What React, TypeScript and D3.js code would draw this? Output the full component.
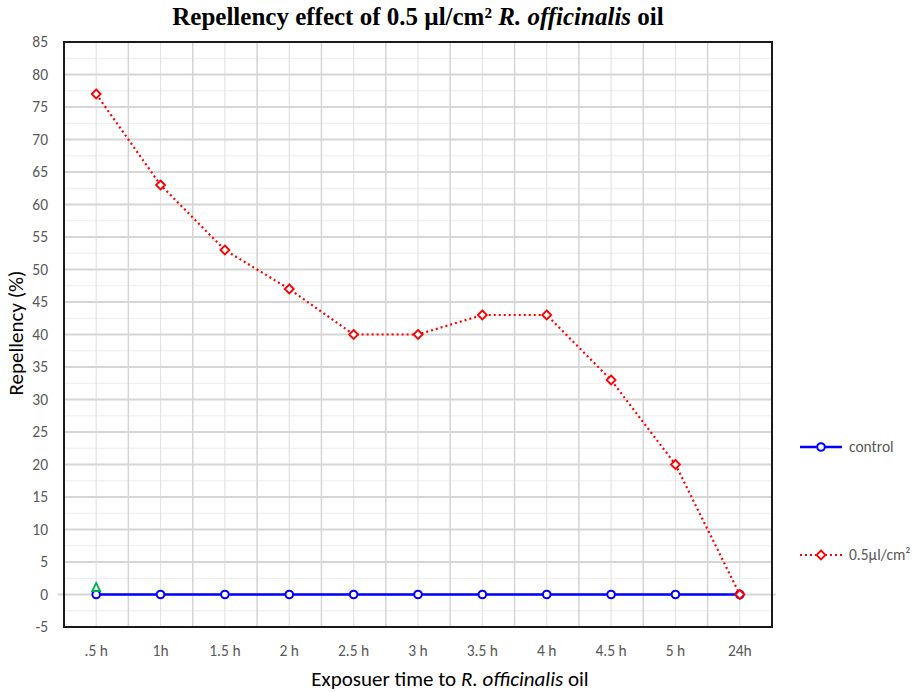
import React from "react";
import * as d3 from "d3";

const categories = [".5 h", "1h", "1.5 h", "2 h", "2.5 h", "3 h", "3.5 h", "4 h", "4.5 h", "5 h", "24h"];
const controlValues = [0, 0, 0, 0, 0, 0, 0, 0, 0, 0, 0];
const oilValues = [77, 63, 53, 47, 40, 40, 43, 43, 33, 20, 0];
const extraPoint = [{ cat: ".5 h", value: 1 }];
const yTicks = [-5, 0, 5, 10, 15, 20, 25, 30, 35, 40, 45, 50, 55, 60, 65, 70, 75, 80, 85];
const yMinor = d3.range(-5, 85.01, 2.5);

const W = 918, H = 692;
const m = { left: 64, right: 772, top: 42, bottom: 627 };

export default function App() {
  const x = d3.scaleBand<string>().domain(categories).range([m.left, m.right]);
  const cx = (c: string) => (x(c) as number) + x.bandwidth() / 2;
  const y = d3.scaleLinear().domain([-5, 85]).range([m.bottom, m.top]);
  const line = d3.line<number>().x((_, i) => cx(categories[i])).y((d) => y(d));
  const font = "Calibri, Carlito, 'Open Sans', sans-serif";
  const diamond = (px: number, py: number, s: number) =>
    `M${px},${py - s}L${px + s},${py}L${px},${py + s}L${px - s},${py}Z`;

  return (
    <svg width={W} height={H} style={{ position: "absolute", left: 0, top: 0, background: "#fff" }}>
      <rect x={0} y={0} width={W} height={H} fill="#fff" />
      {yMinor.map((v) => (
        <line key={"mn" + v} x1={m.left} x2={m.right} y1={y(v)} y2={y(v)} stroke="#ececec" strokeWidth={1} />
      ))}
      {categories.map((c) => (
        <line key={"vc" + c} x1={cx(c)} x2={cx(c)} y1={m.top} y2={m.bottom} stroke="#e3e3e3" strokeWidth={1.2} />
      ))}
      {categories.slice(1).map((c) => (
        <line key={"vb" + c} x1={x(c) as number} x2={x(c) as number} y1={m.top} y2={m.bottom} stroke="#d4d4d4" strokeWidth={1.5} />
      ))}
      {yTicks.map((v) => (
        <line key={"mj" + v} x1={v === 0 ? m.left - 6 : m.left} x2={v === 0 ? m.right + 4 : m.right} y1={y(v)} y2={y(v)} stroke="#d6d6d6" strokeWidth={2} />
      ))}
      <rect x={m.left} y={m.top} width={m.right - m.left} height={m.bottom - m.top} fill="none" stroke="#1a1a1a" strokeWidth={2} />
      {yTicks.map((v) => (
        <text key={"yt" + v} x={m.left - 16} y={y(v)} dy="0.35em" textAnchor="end" fontFamily={font} fontSize={15.5} fill="#595959">
          {v}
        </text>
      ))}
      {categories.map((c) => (
        <text key={"xt" + c} x={cx(c)} y={651} dy="0.35em" textAnchor="middle" fontFamily={font} fontSize={15.5} fill="#595959">
          {c}
        </text>
      ))}
      <path d={line(controlValues) as string} fill="none" stroke="#0000ff" strokeWidth={2.5} />
      {controlValues.map((v, i) => (
        <circle key={"c" + i} cx={cx(categories[i])} cy={y(v)} r={3.8} fill="#fff" stroke="#0000ff" strokeWidth={2} />
      ))}
      <path d={line(oilValues) as string} fill="none" stroke="#ff0000" strokeWidth={2.2} strokeDasharray="2,3" />
      {oilValues.map((v, i) => (
        <path key={"o" + i} d={diamond(cx(categories[i]), y(v), 4.5)} fill="#fff" stroke="#ff0000" strokeWidth={1.8} />
      ))}
      {extraPoint.map((p, i) => {
        const px = cx(p.cat), py = y(p.value);
        return (
          <path key={"g" + i} d={`M${px},${py - 5}L${px + 4},${py + 3}L${px - 4},${py + 3}Z`} fill="#fff" stroke="#00b050" strokeWidth={1.8} />
        );
      })}
      <line x1={800} x2={842} y1={447} y2={447} stroke="#0000ff" strokeWidth={2.5} />
      <circle cx={821} cy={447} r={3.8} fill="#fff" stroke="#0000ff" strokeWidth={2} />
      <text x={849} y={447} dy="0.35em" fontFamily={font} fontSize={15.5} fill="#595959">control</text>
      <line x1={800} x2={842} y1={555} y2={555} stroke="#ff0000" strokeWidth={2.2} strokeDasharray="2,3" />
      <path d={diamond(821, 555, 4.5)} fill="#fff" stroke="#ff0000" strokeWidth={1.8} />
      <text x={849} y={555} dy="0.35em" fontFamily={font} fontSize={15.5} fill="#595959">0.5µl/cm²</text>
      <text x={418} y={25} textAnchor="middle" fontFamily="'Liberation Serif', 'Times New Roman', serif" fontWeight="bold" fontSize={25} fill="#000">
        Repellency effect of 0.5 µl/cm² <tspan fontStyle="italic">R. officinalis</tspan> oil
      </text>
      <text transform={`translate(23,333) rotate(-90)`} textAnchor="middle" fontFamily={font} fontSize={21} fill="#000">
        Repellency (%)
      </text>
      <text x={450} y={686} textAnchor="middle" fontFamily={font} fontSize={21} fill="#000">
        Exposuer time to <tspan fontStyle="italic">R. officinalis</tspan> oil
      </text>
    </svg>
  );
}
